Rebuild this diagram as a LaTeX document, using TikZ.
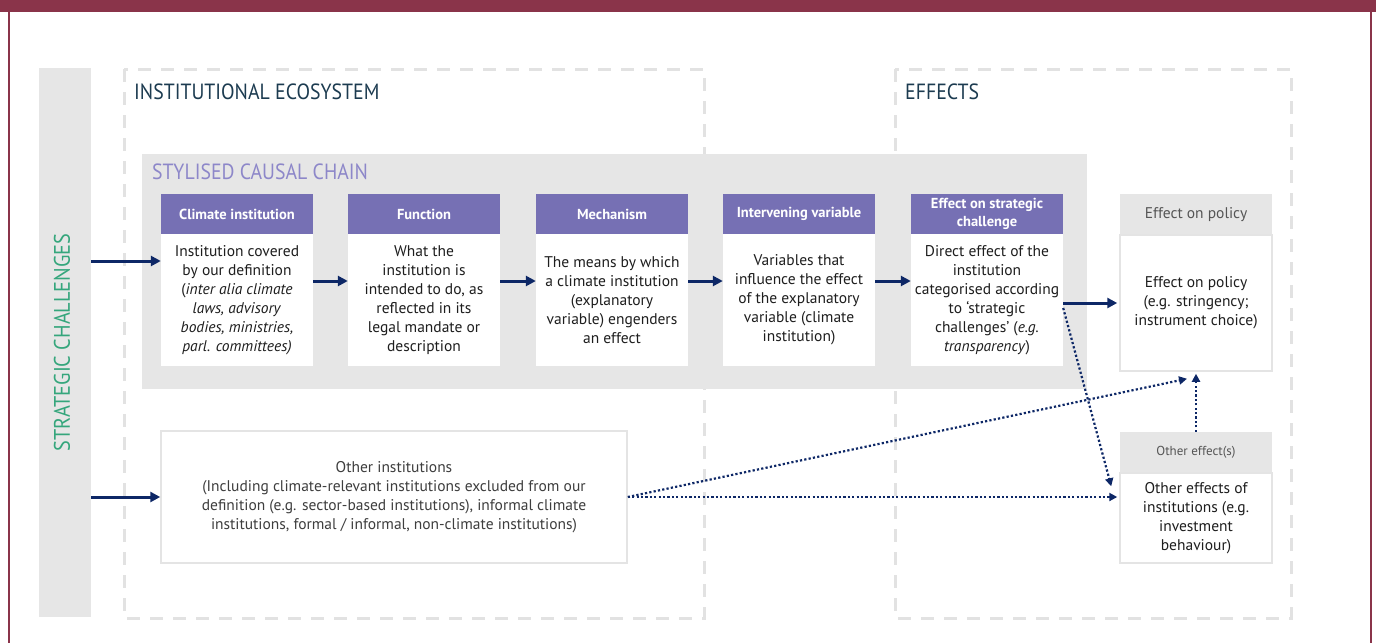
\documentclass[tikz,border=0pt]{standalone}
\usepackage{fontspec}
\setmainfont{PT Sans}
\newfontfamily\titlefont[FakeStretch=0.9]{PT Sans}
\usetikzlibrary{arrows.meta}
\definecolor{framemaroon}{HTML}{8A344A}
\definecolor{panelgrey}{HTML}{E6E6E6}
\definecolor{dashgrey}{HTML}{E2E2E2}
\definecolor{edgegrey}{HTML}{E4E4E4}
\definecolor{chainpurple}{HTML}{7670B4}
\definecolor{chainlilac}{HTML}{8D87C9}
\definecolor{stratgreen}{HTML}{35A67C}
\definecolor{titleblue}{HTML}{1C3B50}
\definecolor{arrownavy}{HTML}{0D2766}
\definecolor{bodytext}{HTML}{1E1E1E}
\definecolor{softtext}{HTML}{3E3E3E}
\definecolor{headtext}{HTML}{555555}
\tikzset{dashframe/.style={draw=dashgrey,line width=3pt,dash pattern=on 13pt off 10pt},
    areatitle/.style={inner sep=0,text=titleblue,font=\titlefont\fontsize{22}{22}\selectfont},
    headbox/.style={fill=chainpurple,text=white,inner sep=0,align=center,
        minimum width=152pt,minimum height=40pt,font=\bfseries\fontsize{14.5}{18}\selectfont},
    bodybox/.style={fill=white,text=bodytext,inner sep=0,align=center,
        minimum width=152pt,minimum height=132pt,font=\fontsize{15.5}{19}\selectfont},
    greyhead/.style={fill=panelgrey,text=headtext,inner sep=0,align=center,
        minimum width=152pt,minimum height=41pt,font=\fontsize{15.5}{19}\selectfont},
    edgebox/.style={draw=edgegrey,line width=1.5pt,fill=white,text=bodytext,inner sep=0,align=center,
        minimum width=152pt,font=\fontsize{15.5}{19}\selectfont},
    solidarrow/.style={draw=arrownavy,line width=3pt,-{Triangle[length=10pt,width=10pt]}},
    dotarrow/.style={draw=arrownavy,line width=2.2pt,dash pattern=on 2.2pt off 2.2pt,
        -{Triangle[length=8pt,width=8pt]}}
}

\begin{document}
\begin{tikzpicture}[x=1pt,y=-1pt]
\useasboundingbox (0,0) rectangle (1376,643);

% page frame

\fill [framemaroon] (0,0) rectangle (1376,12);
\draw [framemaroon,line width=2pt] (9,0) -- (9,643);
\draw [framemaroon,line width=2pt] (1371,0) -- (1371,643);

% dashed areas

\draw [dashframe] (124,69) rectangle (704,618);
\draw [dashframe] (895,69) rectangle (1291,618);
\node (ecoTitle) at (134,99) [areatitle,anchor=base west] {INSTITUTIONAL ECOSYSTEM};
\node (effTitle) at (905,99) [areatitle,anchor=base west] {EFFECTS};

% strategic challenges

\node (stratBar) at (65,342.5) [fill=panelgrey,inner sep=0,minimum width=52pt,minimum height=549pt] {};
\node (stratText) at (62,342.5) [rotate=90,text=stratgreen,font=\titlefont\fontsize{22.5}{22.5}\selectfont] {STRATEGIC CHALLENGES};

% stylised causal chain

\fill [panelgrey] (142,154) rectangle (1087,389);
\node (chainTitle) at (152,179) [anchor=base west,inner sep=0,text=chainlilac,font=\titlefont\fontsize{22}{22}\selectfont] {STYLISED CAUSAL CHAIN};

\node (climHead) at (237,214) [headbox] {Climate institution};
\node (funcHead) at (424,214) [headbox] {Function};
\node (mechHead) at (612,214) [headbox] {Mechanism};
\node (intHead) at (799,214) [headbox] {Intervening variable};
\node (strHead) at (987,214) [headbox] {Effect on strategic\\challenge};

\node (climBody) at (237,300) [bodybox] {Institution covered\\by our definition\\(\textit{inter alia climate}\\\textit{laws, advisory}\\\textit{bodies, ministries,}\\\textit{parl. committees)}};
\node (funcBody) at (424,300) [bodybox] {What the\\institution is\\intended to do, as\\reflected in its\\legal mandate or\\description};
\node (mechBody) at (612,300) [bodybox] {The means by which\\a climate institution\\(explanatory\\variable) engenders\\an effect};
\node (intBody) at (799,300) [bodybox] {Variables that\\influence the effect\\of the explanatory\\variable (climate\\institution)};
\node (strBody) at (987,300) [bodybox] {Direct effect of the\\institution\\categorised according\\to ‘strategic\\challenges’ (\textit{e.g.}\\\textit{transparency})};

% effects

\node (polHead) at (1196,214.5) [greyhead] {Effect on policy};
\node (polBody) at (1196,303) [edgebox,minimum height=136pt] {Effect on policy\\(e.g. stringency;\\instrument choice)};
\node (othHead) at (1196,452.5) [greyhead,font=\fontsize{13}{17}\selectfont] {Other effect(s)};
\node (othBody) at (1196,518) [edgebox,minimum height=90pt] {Other effects of\\institutions (e.g.\\investment\\behaviour)};

% other institutions

\node (otherInst) at (394,497) [edgebox,text=softtext,minimum width=466pt,minimum height=132pt] {Other institutions\\(Including climate-relevant institutions excluded from our\\definition (e.g. sector-based institutions), informal climate\\institutions, formal / informal, non-climate institutions)};

% arrows

\coordinate (inClim) at ([yshift=39pt]climBody.west);
\draw [solidarrow] (stratBar.east |- inClim) -- (inClim);
\draw [solidarrow] (stratBar.east |- otherInst.west) -- (otherInst.west);

\foreach \from/\to in {climBody/funcBody,funcBody/mechBody,mechBody/intBody,intBody/strBody}
    \draw [solidarrow] ([yshift=19pt]\from.east) -- ([yshift=19pt]\to.west);
\draw [solidarrow] (strBody.east |- polBody.west) -- ([xshift=-2pt]polBody.west);

\draw [dotarrow] ([yshift=-8pt]strBody.east) -- ([xshift=-8pt,yshift=-14pt]othBody.north west);
\draw [dotarrow] (otherInst.east) -- ([xshift=-9pt,yshift=-7pt]polBody.south);
\draw [dotarrow] (otherInst.east) -- ([xshift=-2pt]otherInst.east -| othBody.west);
\draw [dotarrow] (othHead.north) -- ([yshift=-2pt]polBody.south);

\end{tikzpicture}
\end{document}
